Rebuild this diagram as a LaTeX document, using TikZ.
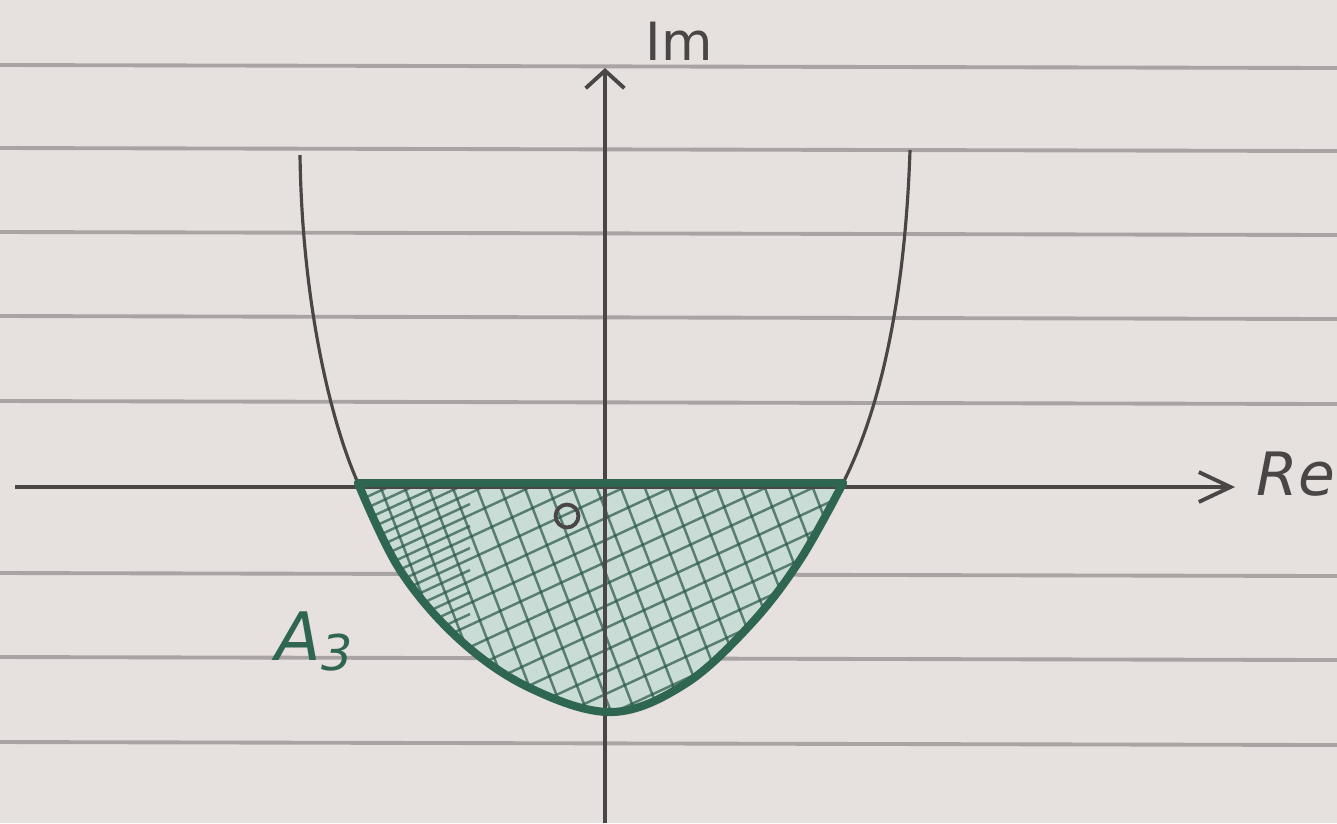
\documentclass[tikz,border=0pt]{standalone}
\usepackage{fontspec}
\setmainfont{DejaVu Sans}
\usetikzlibrary{arrows.meta}
\definecolor{paper}{HTML}{E6E0DF}
\definecolor{rule}{HTML}{A9A3A3}
\definecolor{pencil}{HTML}{4A4646}
\definecolor{deepgreen}{HTML}{2F6652}
\definecolor{lightgreen}{HTML}{C9DCD5}
\tikzset{
  ruleline/.style={rule, line width=1.1pt},
  axisline/.style={pencil, line width=1.1pt},
  curveline/.style={pencil, line width=0.9pt},
  boundary/.style={deepgreen, line width=2.3pt, line cap=round, line join=round},
  hatchline/.style={deepgreen!85!black, line width=0.7pt, opacity=0.7},
  handlabel/.style={pencil, inner sep=0pt}
}
\begin{document}
\begin{tikzpicture}[x=0.01cm, y=-0.01cm]
  \fill[paper] (0,0) rectangle (1337,823);
  \useasboundingbox (0,0) rectangle (1337,823);
  % notebook rules
  \foreach \yy in {65,148,232,316,401,573,657,742}
    \draw[ruleline] (0,\yy) -- (1337,\yy+3);
  % coordinates
  \coordinate (imlow) at (605,823);
  \coordinate (imtop) at (605,68);
  \coordinate (releft) at (15,487);
  \coordinate (reright) at (1235,487);
  \coordinate (leftcross) at (358,483);
  \coordinate (rightcross) at (843,483);
  % shaded region
  \fill[lightgreen] plot[smooth, tension=0.6] coordinates {(358,483) (400,570) (460,640) (530,688) (612,712) (685,684) (750,625) (800,560) (843,483)} -- cycle;
  \begin{scope}
    \clip plot[smooth, tension=0.6] coordinates {(358,483) (400,570) (460,640) (530,688) (612,712) (685,684) (750,625) (800,560) (843,483)} -- cycle;
    \foreach \i in {0,...,30}
      \draw[hatchline] (230+\i*24,470) -- ++(100,260);
    \foreach \i in {0,...,30}
      \draw[hatchline] (330,470+\i*22) -- ++(560,-260);
    \foreach \i in {0,...,9}
      \draw[hatchline] (330,481+\i*22) -- ++(140,-65);
  \end{scope}
  % axes
  \draw[axisline, -{Straight Barb[length=5pt, width=11pt, line width=1.1pt]}] (imlow) -- (imtop);
  \draw[axisline, -{Straight Barb[length=9pt, width=8.5pt, line width=1.1pt]}] (releft) -- (reright);
  % thin branches above the axis
  \draw[curveline] (300,155) .. controls (302,300) and (330,420) .. (leftcross);
  \draw[curveline] (910,150) .. controls (905,300) and (880,410) .. (rightcross);
  % thick boundary
  \draw[boundary] (leftcross) -- (rightcross);
  \draw[boundary] plot[smooth, tension=0.6] coordinates {(358,483) (400,570) (460,640) (530,688) (612,712) (685,684) (750,625) (800,560) (843,483)};
  % small circle
  \node[draw=pencil, line width=1.1pt, circle, minimum size=6.5pt, inner sep=0pt] (orig) at (567,516) {};
  % labels
  \node[handlabel, font=\fontsize{15}{18}\selectfont, anchor=base west] (imlabel) at (645,60) {Im};
  \node[handlabel, font=\itshape\fontsize{17}{20}\selectfont, anchor=base west] (relabel) at (1256,495) {Re};
  \node[handlabel, text=deepgreen, font=\itshape\fontsize{19}{22}\selectfont, anchor=base west] (alabel) at (275,660) {A\raisebox{-0.3ex}{\fontsize{14}{16}\selectfont 3}};
\end{tikzpicture}
\end{document}
